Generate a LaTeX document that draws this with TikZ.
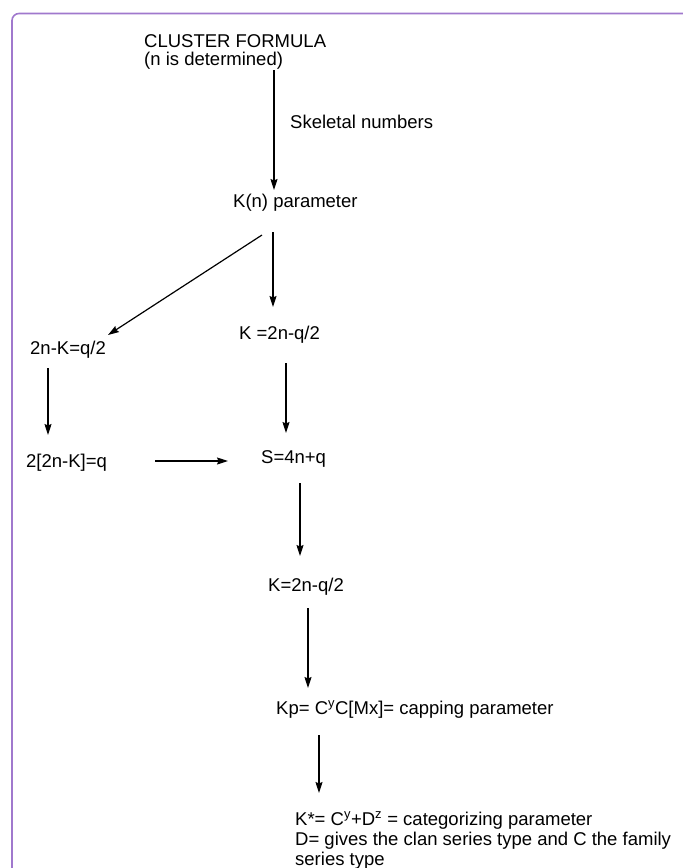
\documentclass[tikz,border=0pt]{standalone}
\usepackage{fontspec}
\setmainfont{Liberation Sans}
\usetikzlibrary{arrows.meta}
\definecolor{framepurple}{RGB}{160,120,205}
\begin{document}
\begin{tikzpicture}[x=1pt,y=-1pt,
  lbl/.style={anchor=base west,inner sep=0pt,align=left,
    font=\fontsize{18.5}{18}\selectfont},
  arr/.style={line width=1.2pt,-{Stealth[length=11pt,width=7pt,inset=1.5pt]}}]
\useasboundingbox (0,0) rectangle (683,868);
% open frame along the top and left edges
\draw[framepurple,line width=1.6pt,rounded corners=7pt]
  (12,880) -- (12,13.5) -- (690,13.5);

% text blocks (base anchor sits on the last line)
\node[lbl] (cf)   at (144,65)  {CLUSTER FORMULA\\(n is determined)};
\node[lbl] (skel) at (290,128) {Skeletal numbers};
\node[lbl] (kn)   at (233,207) {K(n) parameter};
\node[lbl] (lk)   at (30,354)  {2n-K=q/2};
\node[lbl] (rk)   at (239,339) {K =2n-q/2};
\node[lbl] (q)    at (26,467)  {2[2n-K]=q};
\node[lbl] (s)    at (261,463) {S=4n+q};
\node[lbl] (k2)   at (268,591) {K=2n-q/2};
\node[lbl] (kp)   at (276,714) {Kp= C\textsuperscript{y}C[Mx]= capping parameter};
\node[lbl,font=\fontsize{18.5}{20}\selectfont] (ks) at (295,865)
  {K*= C\textsuperscript{y}+D\textsuperscript{z} = categorizing parameter\\
   D= gives the clan series type and C the family\\series type};

% arrow end points
\coordinate (a1s) at (274,70);   \coordinate (a1e) at (274,190);
\coordinate (a2s) at (262,235);  \coordinate (a2e) at (108,335);
\coordinate (a3s) at (273,232);  \coordinate (a3e) at (273,307);
\coordinate (a4s) at (48,368);   \coordinate (a4e) at (48,435);
\coordinate (a5s) at (286,363);  \coordinate (a5e) at (286,433);
\coordinate (a6s) at (155,461);  \coordinate (a6e) at (228,461);
\coordinate (a7s) at (300,483);  \coordinate (a7e) at (300,556);
\coordinate (a8s) at (308,608);  \coordinate (a8e) at (308,688);
\coordinate (a9s) at (319,735);  \coordinate (a9e) at (319,793);

% connectors
\draw[arr] (a1s) -- (a1e);
\draw[arr] (a2s) -- (a2e);
\draw[arr] (a3s) -- (a3e);
\draw[arr] (a4s) -- (a4e);
\draw[arr] (a5s) -- (a5e);
\draw[arr] (a6s) -- (a6e);
\draw[arr] (a7s) -- (a7e);
\draw[arr] (a8s) -- (a8e);
\draw[arr] (a9s) -- (a9e);
\end{tikzpicture}
\end{document}
